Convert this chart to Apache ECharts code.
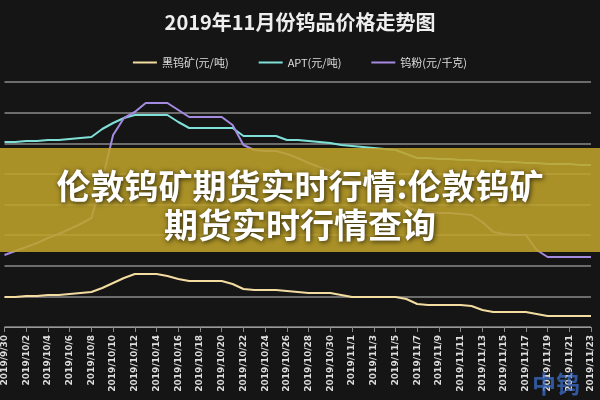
<!DOCTYPE html>
<html><head><meta charset="utf-8">
<script src="https://cdn.jsdelivr.net/npm/echarts@6/dist/echarts.min.js"></script>
<style>html,body{margin:0;background:#151515}#c{width:600px;height:400px}</style>
</head><body><div id="c"></div>
<script>
const categories = [];
(function(){const d=new Date(2019,8,30);for(let i=0;i<55;i++){categories.push(d.getFullYear()+'/'+(d.getMonth()+1)+'/'+d.getDate());d.setDate(d.getDate()+1);}})();
const blackTungsten = [30,30,31,31,32,32,33,34,35,39,44,49,53,53,53,51,48,46,46,46,46,43,38,37,37,37,36,35,34,34,34,32,30,30,30,30,30,28,23,22,22,22,22,21,17,15,15,15,15,13,11,11,11,11,11];
const apt = [185,185,186,186,187,187,188,189,190,198,204,209,212,212,212,212,205,199,199,199,199,199,191,191,191,191,187,187,186,185,184,182,181,180,179,178,177,173,169,169,168,168,167,167,166,166,165,165,164,164,163,163,163,162,162];
const powder = [72,76,80,84,89,93,98,103,109,147,192,209,215,224,224,224,217,210,210,210,210,202,182,177,176,176,173,169,164,160,156,152,148,144,140,135,127,120,116,115,114,114,113,112,105,95,93,92,92,77,70,70,70,70,70];
const names = ['黑钨矿(元/吨)','APT(元/吨)','钨粉(元/千克)'];
const chart = echarts.init(document.getElementById('c'));
const ff = '"Noto Sans CJK SC", sans-serif';
chart.setOption({
  backgroundColor:'#151515',
  animation:false,
  title:{text:'2019年11月份钨品价格走势图',left:'center',top:7,textStyle:{color:'#eee',fontSize:20,fontWeight:'bold',fontFamily:ff}},
  legend:{top:52,itemWidth:24,itemHeight:2,itemGap:30,icon:'rect',textStyle:{color:'#ddd',fontSize:11,fontFamily:ff},data:names},
  grid:{left:3,right:9,top:82,bottom:73},
  xAxis:{type:'category',data:categories,boundaryGap:false,
    axisLine:{lineStyle:{color:'#999'}},axisTick:{interval:1,lineStyle:{color:'#888'}},
    axisLabel:{interval:1,rotate:90,color:'#ddd',fontSize:9,fontWeight:'bold',fontFamily:'DejaVu Sans'}},
  yAxis:{type:'value',min:0,max:245,interval:30.625,axisLabel:{show:false},axisLine:{show:false},axisTick:{show:false},splitLine:{lineStyle:{color:'#8a8a8a',width:1.5}}},
  series:[
    {name:names[0],type:'line',data:blackTungsten,symbol:'none',lineStyle:{color:'#f3dca0',width:2},itemStyle:{color:'#f3dca0'}},
    {name:names[1],type:'line',data:apt,symbol:'none',lineStyle:{color:'#7fe0d8',width:2},itemStyle:{color:'#7fe0d8'}},
    {name:names[2],type:'line',data:powder,symbol:'none',lineStyle:{color:'#a58be0',width:2},itemStyle:{color:'#a58be0'}}
  ],
  graphic:[
    {type:'rect',shape:{x:0,y:148,width:600,height:104},style:{fill:'rgba(190,162,42,0.88)'},z:100},
    {type:'text',x:300,y:186,z:101,style:{text:'伦敦钨矿期货实时行情:伦敦钨矿',fill:'#fff',font:'bold 34px '+ff,align:'center',verticalAlign:'middle',textShadowColor:'rgba(0,0,0,0.75)',textShadowBlur:5,textShadowOffsetX:1,textShadowOffsetY:1}},
    {type:'text',x:300,y:225,z:101,style:{text:'期货实时行情查询',fill:'#fff',font:'bold 34px '+ff,align:'center',verticalAlign:'middle',textShadowColor:'rgba(0,0,0,0.75)',textShadowBlur:5,textShadowOffsetX:1,textShadowOffsetY:1}},
    {type:'text',x:532,y:372,z:101,style:{text:'中钨',fill:'rgba(60,110,200,0.75)',font:'bold 24px '+ff}}
  ]
});
</script></body></html>
